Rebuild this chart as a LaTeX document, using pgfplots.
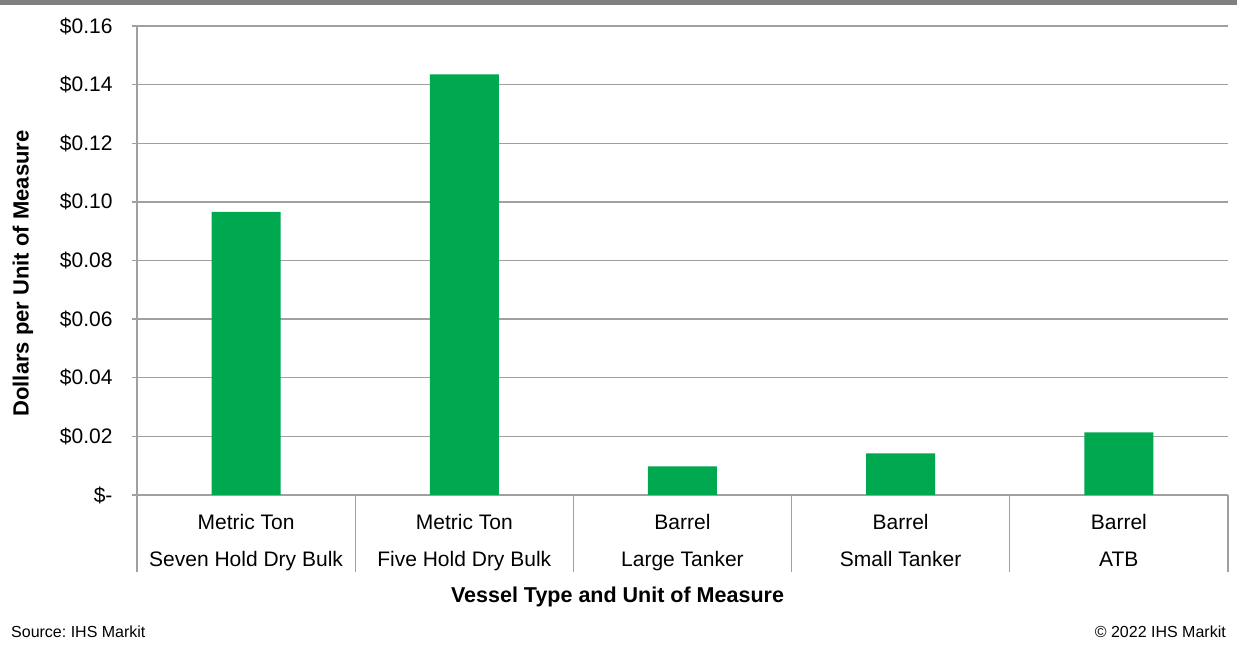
\documentclass[border=0pt]{standalone}
\usepackage{fontspec}
\setmainfont{Liberation Sans}
\usepackage{pgfplots}
\pgfplotsset{compat=1.18}
\frenchspacing
\definecolor{bargreen}{RGB}{0,168,80}
\definecolor{gridgray}{RGB}{160,160,160}
\definecolor{topgray}{RGB}{128,128,128}
\begin{document}
\begin{tikzpicture}[x=1pt,y=1pt]
\path[use as bounding box] (0,0) rectangle (1237,650);
\fill[topgray] (0,645) rectangle (1237,650);
\begin{axis}[
  at={(137pt,155pt)}, anchor=south west,
  scale only axis, width=1091pt, height=469pt,
  xmin=-0.5, xmax=4.5, ymin=0, ymax=0.16,
  ybar, bar width=69pt,
  axis lines*=left,
  axis line style={gridgray, line width=1.3pt, -},
  ytick={0,0.02,0.04,0.06,0.08,0.10,0.12,0.14,0.16},
  yticklabels={\$-\hspace{10pt},\$0.02,\$0.04,\$0.06,\$0.08,\$0.10,\$0.12,\$0.14,\$0.16},
  ymajorgrids, grid style={gridgray, line width=1.3pt},
  tick align=outside, major tick length=5pt,
  ytick style={gridgray, line width=1.3pt},
  xtick={0,1,2,3,4}, xtick style={draw=none},
  xticklabels={{Metric Ton\\Seven Hold Dry Bulk},{Metric Ton\\Five Hold Dry Bulk},{Barrel\\Large Tanker},{Barrel\\Small Tanker},{Barrel\\ATB}},
  xticklabel style={align=center, anchor=north, inner sep=0pt, yshift=-14pt, font=\fontsize{21}{37}\selectfont},
  yticklabel style={anchor=east, xshift=-16pt, font=\fontsize{21}{25}\selectfont},
  clip=false,
]
\addplot[fill=bargreen, draw=none] coordinates {(0,0.0966) (1,0.1435) (2,0.0098) (3,0.0142) (4,0.0214)};
\end{axis}
\foreach \k in {0,...,5} {
  \draw[gridgray, line width=1.3pt] (137+\k*218.2,155) -- (137+\k*218.2,78);
}
\node[rotate=90, font=\bfseries\fontsize{22}{26}\selectfont] at (23,376.5) {Dollars per Unit of Measure};
\node[font=\bfseries\fontsize{21.5}{25}\selectfont] at (617.5,53) {Vessel Type and Unit of Measure};
\node[anchor=west, inner sep=0pt, font=\fontsize{16}{19}\selectfont] at (11,18) {Source: IHS Markit};
\node[anchor=east, inner sep=0pt, font=\fontsize{16}{19}\selectfont] at (1226,18) {© 2022 IHS Markit};
\end{tikzpicture}
\end{document}
